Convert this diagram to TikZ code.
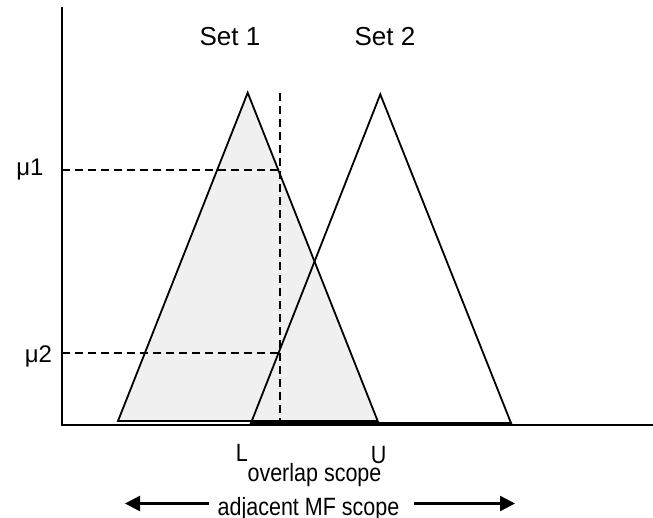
\documentclass[tikz,border=0pt]{standalone}
\usepackage{fontspec}
\setmainfont{Liberation Sans}
\newfontfamily\narrowsans[FakeStretch=0.86]{Liberation Sans}
\usetikzlibrary{arrows.meta}

\begin{document}
\begin{tikzpicture}[x=1pt,y=-1pt,line width=1.8pt]
\tikzstyle{mf}=[draw=black,line join=miter]
\tikzstyle{cut}=[dash pattern=on 8pt off 5pt]
\tikzstyle{setlbl}=[anchor=base,inner sep=0pt,font=\fontsize{26}{30}\selectfont]
\tikzstyle{mulbl}=[anchor=base east,inner sep=0pt,font=\fontsize{24}{28}\selectfont]
\tikzstyle{scopelbl}=[anchor=base,inner sep=0pt,font=\narrowsans\fontsize{25}{30}\selectfont]
\tikzstyle{span}=[line width=2.4pt,-{Triangle[length=15pt,width=15pt]}]
\useasboundingbox (0,0) rectangle (653,517);
% corners of the two membership functions
\coordinate (a1) at (118,421);
\coordinate (t1) at (247.7,92.7);
\coordinate (b1) at (377.7,421);
\coordinate (a2) at (251,423);
\coordinate (t2) at (380.3,94.3);
\coordinate (b2) at (511,423);
\fill[black!6] (a1) -- (t1) -- (b1) -- cycle;
\draw[mf] (a1) -- (t1) -- (b1) -- cycle;
\draw[mf] (a2) -- (t2) -- (b2) -- cycle;
% membership degrees at the cut
\coordinate (cuttop) at (280,93);
\coordinate (cutbot) at (280,423);
\coordinate (m1) at (62,170);
\coordinate (m2) at (62,353);
\draw[cut,line width=2.4pt] (cuttop) -- (cutbot);
\draw[cut] (m1) -- (m1 -| cuttop);
\draw[cut] (m2) -- (m2 -| cuttop);
% axes
\draw (62,7) -- (62,425) -- (653,425);
% labels
\node[setlbl] (set1) at (230,45) {Set 1};
\node[setlbl] (set2) at (385,45) {Set 2};
\node[mulbl] (mu1) at (44.5,175) {μ1};
\node[mulbl] (mu2) at (53,362) {μ2};
\node[scopelbl,anchor=base west] (lo) at (235,461) {L};
\node[scopelbl,anchor=base west] (up) at (370,463) {U};
\node[scopelbl] (overlap) at (314.5,481.7) {overlap scope};
\node[scopelbl] (adj) at (308.5,515) {adjacent MF scope};
\coordinate (leftend) at (125,503.5);
\coordinate (rightend) at (515,503.5);
\draw[span] ([xshift=-8pt]adj.west |- leftend) -- (leftend);
\draw[span] ([xshift=14pt]adj.east |- rightend) -- (rightend);
\end{tikzpicture}
\end{document}
